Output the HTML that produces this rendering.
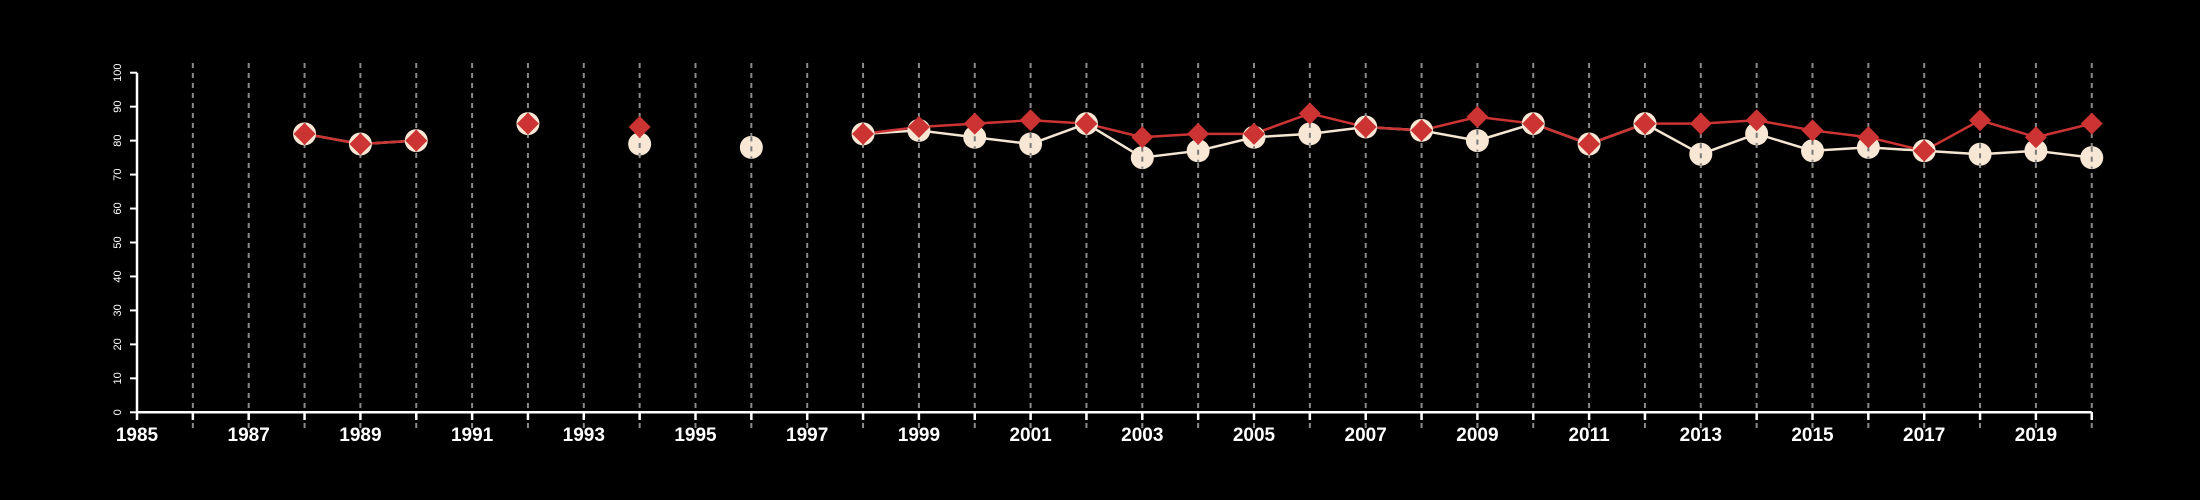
<!DOCTYPE html>
<html><head><meta charset="utf-8"><style>
html,body{margin:0;padding:0;background:#000;}
svg{display:block;font-family:"Liberation Sans",Arial,sans-serif;}
</style></head><body>
<svg id="chart" width="2200" height="500" viewBox="0 0 2200 500">
<rect width="2200" height="500" fill="#000"/>
<g id="grid"></g><g id="axes"></g><g id="lines"></g><g id="points"></g>
</svg>
<script>
const years = [1985,1986,1987,1988,1989,1990,1991,1992,1993,1994,1995,1996,1997,1998,1999,2000,2001,2002,2003,2004,2005,2006,2007,2008,2009,2010,2011,2012,2013,2014,2015,2016,2017,2018,2019,2020];
const redValues = [null,null,null,82,79,80,null,85,null,84,null,null,null,82,84,85,86,85,81,82,82,88,84,83,87,85,79,85,85,86,83,81,77,86,81,85];
const creamValues = [null,null,null,82,79,80,null,85,null,79,null,78,null,82,83,81,79,85,75,77,81,82,84,83,80,85,79,85,76,82,77,78,77,76,77,75];
const yTicks = [0,10,20,30,40,50,60,70,80,90,100];
const xLabels = [1985,1987,1989,1991,1993,1995,1997,1999,2001,2003,2005,2007,2009,2011,2013,2015,2017,2019];

const NS="http://www.w3.org/2000/svg";
const x = y => 137 + (y-1985)*55.85;
const yy = v => 412.3 - v*3.396;
function mk(tag, attrs, parent){const e=document.createElementNS(NS,tag);for(const k in attrs)e.setAttribute(k,attrs[k]);parent.appendChild(e);return e;}
const grid=document.getElementById('grid'),axes=document.getElementById('axes'),lines=document.getElementById('lines'),pts=document.getElementById('points');

years.forEach(yr=>{
  if(yr===1985) return;
  const g=mk('line',{x1:x(yr),x2:x(yr),y1:63,y2:428,stroke:'#8a8a8a','stroke-width':2,'stroke-dasharray':'5,5'},grid);
  
  
});
const xa=mk('line',{x1:x(1985),x2:x(2020),y1:412.3,y2:412.3,stroke:'#fff','stroke-width':2.5},axes);


const ya=mk('line',{x1:137,x2:137,y1:yy(100),y2:yy(0),stroke:'#fff','stroke-width':2.5},axes);


years.forEach(yr=>{
  const t=mk('line',{x1:x(yr),x2:x(yr),y1:412,y2:420,stroke:'#fff','stroke-width':2.5},axes);
  
  
});
xLabels.forEach(yr=>{
  const t=mk('text',{x:x(yr),y:441,'text-anchor':'middle',fill:'#fff','font-size':19,'font-weight':'bold'},axes);
  t.textContent=yr;
  
  
});
yTicks.forEach(v=>{
  const t=mk('line',{x1:130,x2:137,y1:yy(v),y2:yy(v),stroke:'#fff','stroke-width':2},axes);
  
  
  const l=mk('text',{x:0,y:0,transform:`translate(121,${yy(v)}) rotate(-90)`,'text-anchor':'middle',fill:'#fff','font-size':11},axes);
  l.textContent=v;
  
  
});
function drawLine(vals,color,name){
  for(let i=1;i<years.length;i++){
    if(vals[i]==null||vals[i-1]==null) continue;
    const l=mk('line',{x1:x(years[i-1]),y1:yy(vals[i-1]),x2:x(years[i]),y2:yy(vals[i]),stroke:color,'stroke-width':2.5},lines);
    
    
  }
}
drawLine(creamValues,'#f5e6d3','cream-line');
drawLine(redValues,'#cc3333','red-line');
years.forEach((yr,i)=>{
  const v=creamValues[i]; if(v==null) return;
  const c=mk('circle',{cx:x(yr),cy:yy(v),r:11.5,fill:'#f7e7d4'},pts);
  
  
});
// dashed grid passes over circles in reference
years.forEach((yr,i)=>{
  const v=creamValues[i]; if(v==null) return;
  const g=mk('line',{x1:x(yr),x2:x(yr),y1:yy(v)-11,y2:yy(v)+11,stroke:'#7a7a7a','stroke-width':2,'stroke-dasharray':'5,5'},pts);
  
  
});
years.forEach((yr,i)=>{
  const v=redValues[i]; if(v==null) return;
  const cx=x(yr),cy=yy(v),r=11;
  const d=mk('polygon',{points:`${cx},${cy-r} ${cx+r},${cy} ${cx},${cy+r} ${cx-r},${cy}`,fill:'#cc3333'},pts);
  
  
});
</script>
</body></html>
